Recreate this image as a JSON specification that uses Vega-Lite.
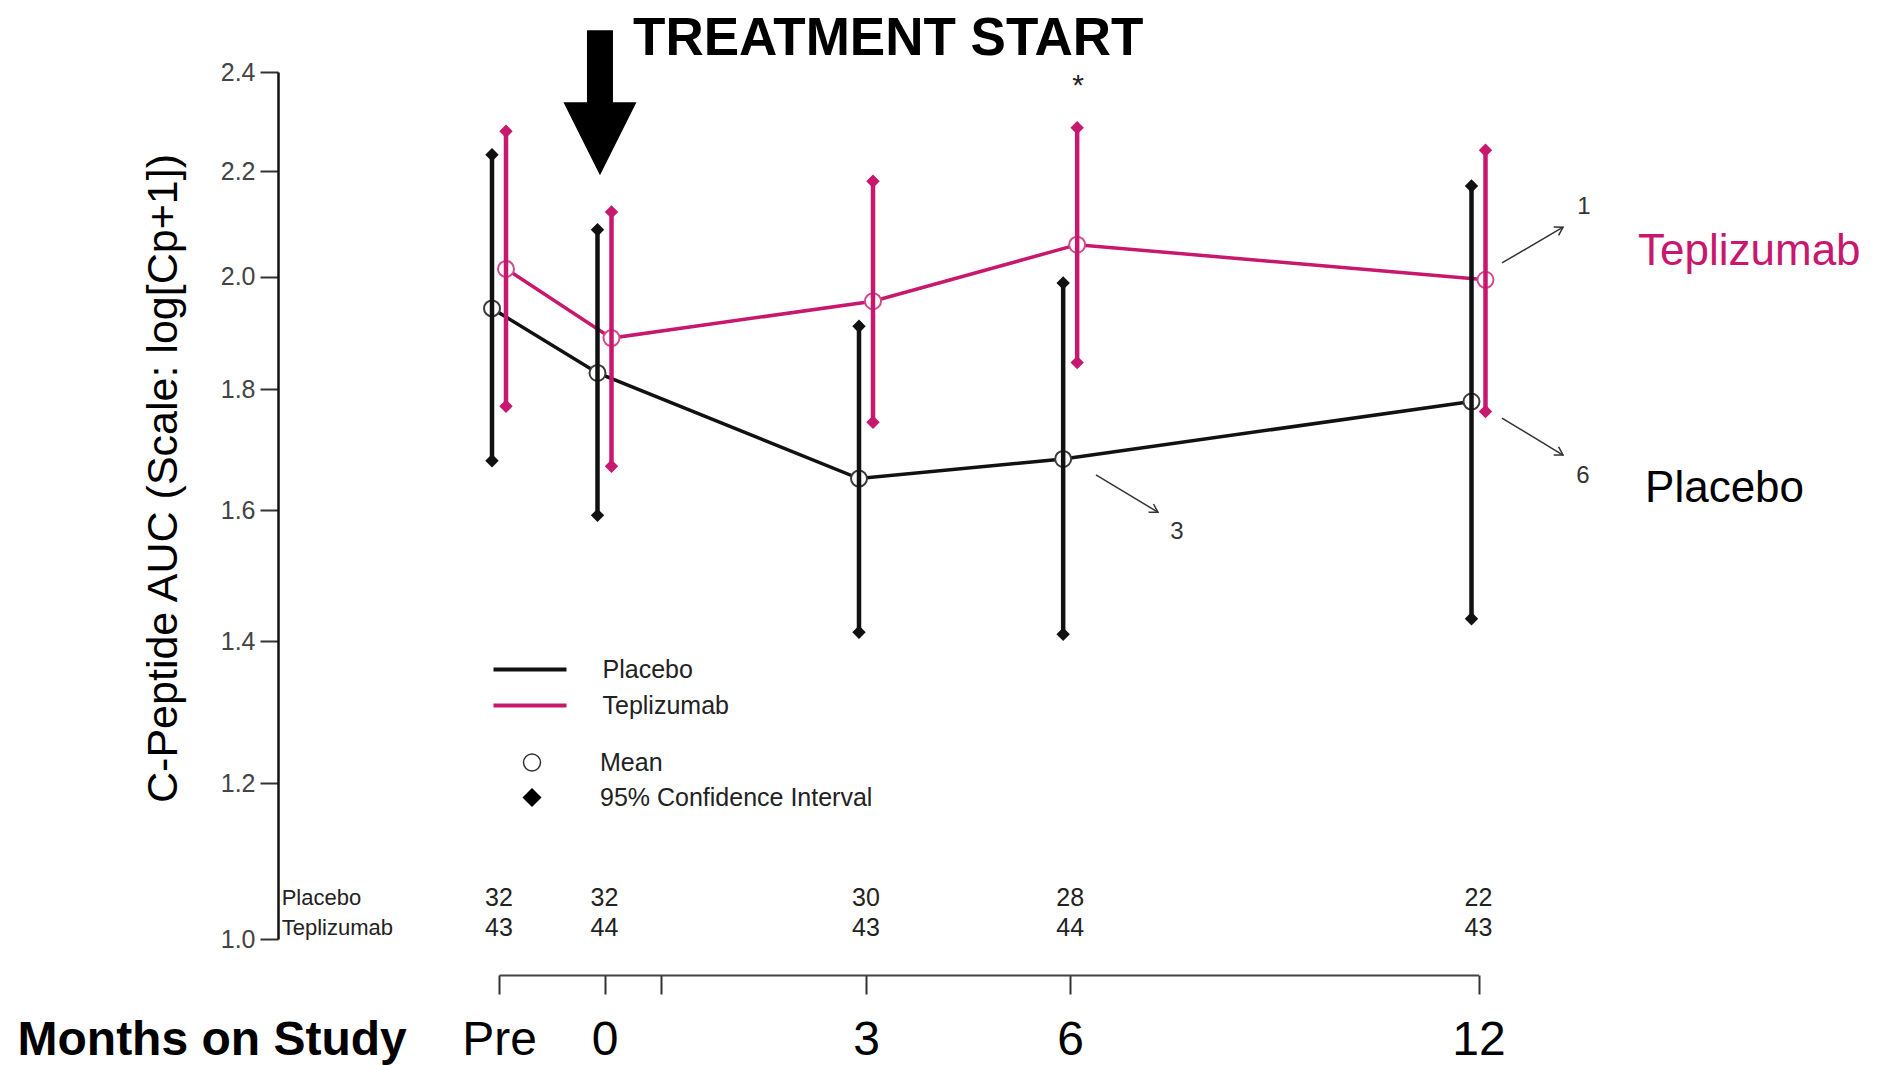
{
  "$schema": "https://vega.github.io/schema/vega-lite/v6.json",
  "width": 1604,
  "height": 867,
  "autosize": {"type": "none"},
  "padding": {"left": 278, "top": 72, "right": 0, "bottom": 126},
  "background": "white",
  "config": {"font": "Liberation Sans", "view": {"stroke": null}, "axis": {"grid": false}},
  "datasets": {
    "cpep": [
      {"visit": "Pre", "month": -1, "group": "Placebo", "mean": 1.942, "lo": 1.680, "hi": 2.232, "n": 32},
      {"visit": "0", "month": 0, "group": "Placebo", "mean": 1.828, "lo": 1.592, "hi": 2.087, "n": 32},
      {"visit": "3", "month": 3, "group": "Placebo", "mean": 1.651, "lo": 1.413, "hi": 1.910, "n": 30},
      {"visit": "6", "month": 6, "group": "Placebo", "mean": 1.683, "lo": 1.410, "hi": 1.988, "n": 28},
      {"visit": "12", "month": 12, "group": "Placebo", "mean": 1.779, "lo": 1.433, "hi": 2.171, "n": 22},
      {"visit": "Pre", "month": -1, "group": "Teplizumab", "mean": 2.014, "lo": 1.771, "hi": 2.279, "n": 43},
      {"visit": "0", "month": 0, "group": "Teplizumab", "mean": 1.889, "lo": 1.671, "hi": 2.121, "n": 44},
      {"visit": "3", "month": 3, "group": "Teplizumab", "mean": 1.955, "lo": 1.744, "hi": 2.180, "n": 43},
      {"visit": "6", "month": 6, "group": "Teplizumab", "mean": 2.059, "lo": 1.846, "hi": 2.286, "n": 44},
      {"visit": "12", "month": 12, "group": "Teplizumab", "mean": 1.994, "lo": 1.762, "hi": 2.241, "n": 43}
    ]
  },
  "data": {"name": "cpep"},
  "layer": [
    {
      "mark": {"type": "line", "strokeWidth": 3.5, "xOffset": {"expr": "datum.group === 'Placebo' ? -7 : 7"}},
      "encoding": {
        "x": {
          "field": "month", "type": "quantitative",
          "scale": {"domain": [-1, 0, 3, 12], "range": [221, 326.5, 588, 1200.5], "nice": false, "zero": false},
          "axis": {
            "title": "Months on Study", "values": [-1, 0, 0.65, 3, 6, 12],
            "labelExpr": "datum.value === -1 ? 'Pre' : (datum.value === 0.65 ? '' : format(datum.value, 'd'))",
            "labelFontSize": 48, "labelColor": "black", "labelPadding": 22, "labelFlush": false, "labelOverlap": false,
            "tickSize": 19, "tickWidth": 2, "tickColor": "#333", "domainColor": "#444", "domainWidth": 2, "offset": 36,
            "titleFontSize": 48, "titleFontWeight": "bold", "titleColor": "black", "titleX": -261, "titleY": 79,
            "titleAlign": "left", "titleAnchor": "start", "titleBaseline": "alphabetic", "grid": false
          }
        },
        "y": {
          "field": "mean", "type": "quantitative",
          "scale": {"type": "symlog", "constant": 1, "domain": [1, 2.4], "nice": false, "zero": false},
          "axis": {
            "title": "C-Peptide AUC (Scale: log[Cp+1])", "values": [1, 1.2, 1.4, 1.6, 1.8, 2, 2.2, 2.4], "format": ".1f",
            "labelFontSize": 25, "labelColor": "#444", "labelPadding": 5, "labelFlush": false, "labelOverlap": false,
            "tickSize": 18, "tickWidth": 2, "tickColor": "#333", "domainColor": "#111", "domainWidth": 2.5,
            "titleFontSize": 43, "titleFontWeight": "normal", "titleColor": "black", "titleAngle": -90,
            "titleX": -102, "titleY": 406, "titleAlign": "center", "titleBaseline": "alphabetic", "grid": false
          }
        },
        "color": {
          "field": "group", "type": "nominal",
          "scale": {"domain": ["Placebo", "Teplizumab"], "range": ["#111111", "#C8186E"]},
          "legend": {
            "orient": "none", "legendX": 237.5, "legendY": 583, "title": null, "padding": 0,
            "symbolType": "M-3,0L3,0", "symbolSize": 592, "symbolStrokeWidth": 4,
            "labelFontSize": 25, "labelColor": "#222", "labelOffset": 58, "rowPadding": 8, "labelLimit": 500
          }
        }
      }
    },
    {
      "mark": {"type": "point", "filled": true, "fill": "white", "size": 256, "strokeWidth": 2, "opacity": 1, "xOffset": {"expr": "datum.group === 'Placebo' ? -7 : 7"}},
      "encoding": {
        "x": {"field": "month", "type": "quantitative"},
        "y": {"field": "mean", "type": "quantitative"},
        "stroke": {"field": "group", "type": "nominal", "scale": {"domain": ["Placebo", "Teplizumab"], "range": ["#3a3a3a", "#D04A8C"]}, "legend": null},
        "shape": {
          "datum": "Mean", "type": "nominal",
          "scale": {"domain": ["Mean", "95% Confidence Interval"], "range": ["circle", "diamond"]},
          "legend": {
            "orient": "none", "legendX": 241.5, "legendY": 678, "title": null, "padding": 0,
            "symbolSize": 289, "symbolStrokeWidth": 1.5, "symbolStrokeColor": "#222",
            "labelFontSize": 25, "labelColor": "#222", "labelOffset": 55.5, "rowPadding": 9, "labelLimit": 500,
            "encoding": {"symbols": {
              "fill": {"condition": {"test": "datum.value === 'Mean'", "value": "white"}, "value": "black"},
              "stroke": {"condition": {"test": "datum.value === 'Mean'", "value": "#333333"}, "value": "black"},
              "opacity": {"value": 1},
              "fillOpacity": {"value": 1}
            }}
          }
        }
      }
    },
    {
      "mark": {"type": "rule", "strokeWidth": 4.5, "xOffset": {"expr": "datum.group === 'Placebo' ? -7 : 7"}},
      "encoding": {
        "x": {"field": "month", "type": "quantitative"},
        "y": {"field": "lo", "type": "quantitative"},
        "y2": {"field": "hi"},
        "color": {"field": "group", "type": "nominal"}
      }
    },
    {
      "transform": [{"fold": ["lo", "hi"], "as": ["bound", "ci"]}],
      "mark": {"type": "point", "filled": true, "size": 180, "opacity": 1, "xOffset": {"expr": "datum.group === 'Placebo' ? -7 : 7"}},
      "encoding": {
        "x": {"field": "month", "type": "quantitative"},
        "y": {"field": "ci", "type": "quantitative"},
        "color": {"field": "group", "type": "nominal"},
        "shape": {"datum": "95% Confidence Interval", "type": "nominal"}
      }
    },
    {
      "transform": [{"filter": "datum.group === 'Placebo'"}],
      "mark": {"type": "text", "fontSize": 25, "color": "#222", "baseline": "middle", "align": "center"},
      "encoding": {
        "x": {"field": "month", "type": "quantitative"},
        "y": {"datum": 1.0508, "type": "quantitative"},
        "text": {"field": "n"}
      }
    },
    {
      "transform": [{"filter": "datum.group === 'Teplizumab'"}],
      "mark": {"type": "text", "fontSize": 25, "color": "#222", "baseline": "middle", "align": "center"},
      "encoding": {
        "x": {"field": "month", "type": "quantitative"},
        "y": {"datum": 1.0135, "type": "quantitative"},
        "text": {"field": "n"}
      }
    },
    {
      "transform": [{"filter": "datum.group === 'Placebo' && datum.month === -1"}],
      "mark": {"type": "text", "fontSize": 22, "color": "#222", "baseline": "middle", "align": "left"},
      "encoding": {
        "x": {"datum": -3.06, "type": "quantitative"},
        "y": {"datum": 1.0508, "type": "quantitative"},
        "text": {"field": "group"}
      }
    },
    {
      "transform": [{"filter": "datum.group === 'Teplizumab' && datum.month === -1"}],
      "mark": {"type": "text", "fontSize": 22, "color": "#222", "baseline": "middle", "align": "left"},
      "encoding": {
        "x": {"datum": -3.06, "type": "quantitative"},
        "y": {"datum": 1.0135, "type": "quantitative"},
        "text": {"field": "group"}
      }
    },
    {
      "data": {"values": [{"label": "TREATMENT START"}]},
      "mark": {"type": "text", "fontSize": 53, "fontWeight": "bold", "color": "black", "align": "left", "baseline": "alphabetic"},
      "encoding": {
        "x": {"datum": 0.327, "type": "quantitative"},
        "y": {"datum": 2.435, "type": "quantitative"},
        "text": {"field": "label"}
      }
    },
    {
      "data": {"values": [{"label": "treatment start arrow"}]},
      "mark": {"type": "point", "shape": "M0,0L-1,-2L-0.356,-2L-0.356,-3.973L0.356,-3.973L0.356,-2L1,-2Z", "size": 5329, "filled": true, "color": "black", "opacity": 1, "strokeWidth": 0},
      "encoding": {
        "x": {"datum": -0.043, "type": "quantitative"},
        "y": {"datum": 2.192, "type": "quantitative"}
      }
    },
    {
      "data": {"values": [{"label": "*"}]},
      "mark": {"type": "text", "fontSize": 30, "color": "#222", "baseline": "middle", "align": "center", "xOffset": 8},
      "encoding": {
        "x": {"datum": 6, "type": "quantitative"},
        "y": {"datum": 2.37, "type": "quantitative"},
        "text": {"field": "label"}
      }
    },
    {
      "data": {"values": [{"label": "1"}]},
      "mark": {"type": "text", "fontSize": 24, "color": "#333", "baseline": "middle", "align": "center"},
      "encoding": {"x": {"datum": 13.55, "type": "quantitative"}, "y": {"datum": 2.13, "type": "quantitative"}, "text": {"field": "label"}}
    },
    {
      "data": {"values": [{"label": "6"}]},
      "mark": {"type": "text", "fontSize": 24, "color": "#333", "baseline": "middle", "align": "center"},
      "encoding": {"x": {"datum": 13.535, "type": "quantitative"}, "y": {"datum": 1.655, "type": "quantitative"}, "text": {"field": "label"}}
    },
    {
      "data": {"values": [{"label": "3"}]},
      "mark": {"type": "text", "fontSize": 24, "color": "#333", "baseline": "middle", "align": "center"},
      "encoding": {"x": {"datum": 7.569, "type": "quantitative"}, "y": {"datum": 1.566, "type": "quantitative"}, "text": {"field": "label"}}
    },
    {
      "data": {"values": [{"label": "arrow 1"}]},
      "mark": {"type": "rule", "strokeWidth": 1.5, "color": "#333"},
      "encoding": {"x": {"datum": 12.345, "type": "quantitative"}, "y": {"datum": 2.025, "type": "quantitative"}, "x2": {"datum": 13.242}, "y2": {"datum": 2.092}}
    },
    {
      "data": {"values": [{"label": "arrow 6"}]},
      "mark": {"type": "rule", "strokeWidth": 1.5, "color": "#333"},
      "encoding": {"x": {"datum": 12.345, "type": "quantitative"}, "y": {"datum": 1.751, "type": "quantitative"}, "x2": {"datum": 13.242}, "y2": {"datum": 1.6895}}
    },
    {
      "data": {"values": [{"label": "arrow 3"}]},
      "mark": {"type": "rule", "strokeWidth": 1.5, "color": "#333"},
      "encoding": {"x": {"datum": 6.379, "type": "quantitative"}, "y": {"datum": 1.657, "type": "quantitative"}, "x2": {"datum": 7.29}, "y2": {"datum": 1.597}}
    },
    {
      "data": {"values": [{"label": "head 1"}]},
      "mark": {"type": "point", "shape": "M-2,-1.2L0,0L-2,1.2", "size": 64, "filled": false, "strokeWidth": 1.5, "color": "#333", "opacity": 1, "angle": -30.5},
      "encoding": {"x": {"datum": 13.242, "type": "quantitative"}, "y": {"datum": 2.092, "type": "quantitative"}}
    },
    {
      "data": {"values": [{"label": "head 6"}]},
      "mark": {"type": "point", "shape": "M-2,-1.2L0,0L-2,1.2", "size": 64, "filled": false, "strokeWidth": 1.5, "color": "#333", "opacity": 1, "angle": 31},
      "encoding": {"x": {"datum": 13.242, "type": "quantitative"}, "y": {"datum": 1.6895, "type": "quantitative"}}
    },
    {
      "data": {"values": [{"label": "head 3"}]},
      "mark": {"type": "point", "shape": "M-2,-1.2L0,0L-2,1.2", "size": 64, "filled": false, "strokeWidth": 1.5, "color": "#333", "opacity": 1, "angle": 30.8},
      "encoding": {"x": {"datum": 7.29, "type": "quantitative"}, "y": {"datum": 1.597, "type": "quantitative"}}
    },
    {
      "data": {"values": [{"label": "Teplizumab"}]},
      "mark": {"type": "text", "fontSize": 44, "color": "#C8176F", "align": "left", "baseline": "alphabetic"},
      "encoding": {"x": {"datum": 14.344, "type": "quantitative"}, "y": {"datum": 2.021, "type": "quantitative"}, "text": {"field": "label"}}
    },
    {
      "data": {"values": [{"label": "Placebo"}]},
      "mark": {"type": "text", "fontSize": 44, "color": "black", "align": "left", "baseline": "alphabetic"},
      "encoding": {"x": {"datum": 14.447, "type": "quantitative"}, "y": {"datum": 1.613, "type": "quantitative"}, "text": {"field": "label"}}
    }
  ]
}
